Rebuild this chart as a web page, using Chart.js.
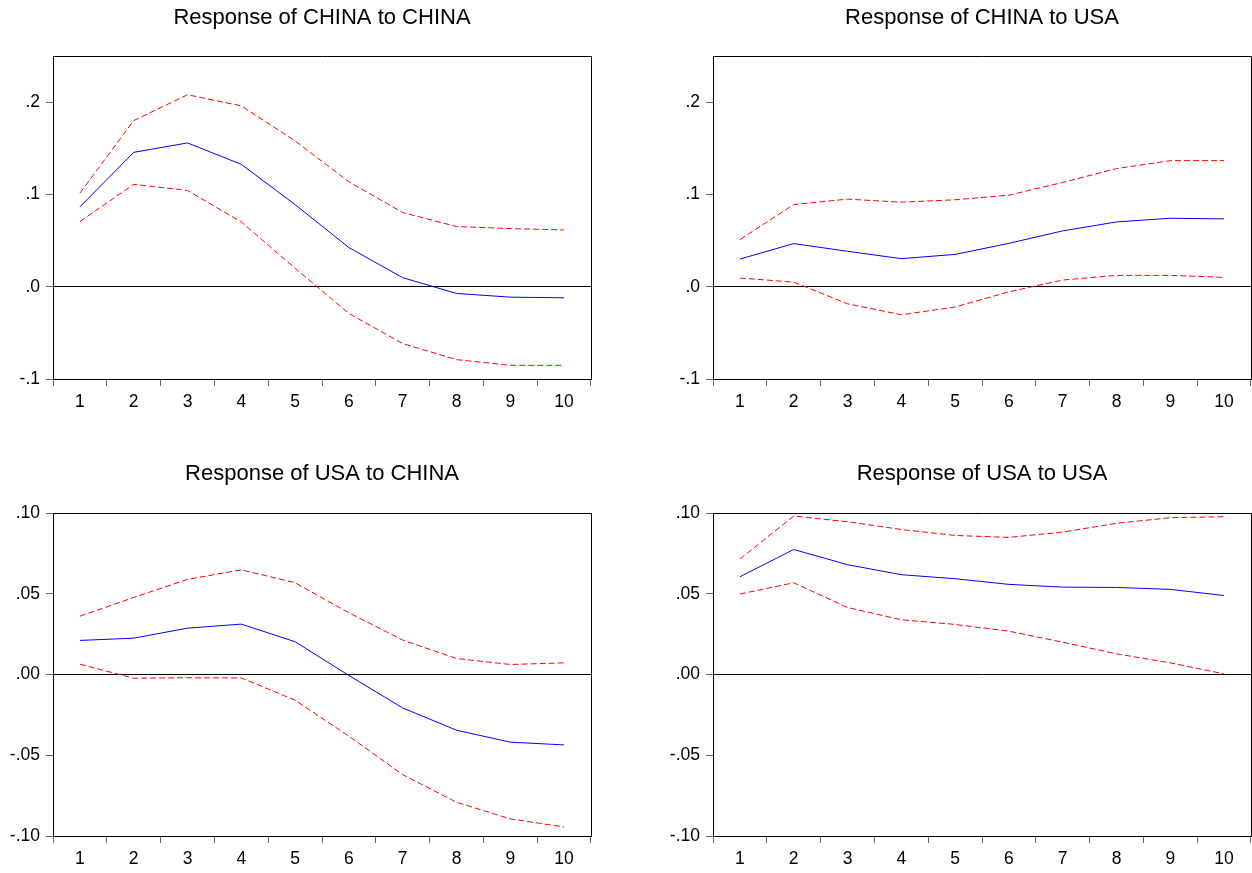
<!DOCTYPE html>
<html>
<head>
<meta charset="utf-8">
<script src="https://cdn.jsdelivr.net/npm/chart.js@4.4.1/dist/chart.umd.min.js"></script>
<style>
  html, body { margin: 0; padding: 0; background: #fff; overflow: hidden; }
  body { width: 1252px; height: 873px; position: relative; }
  canvas { position: absolute; }
</style>
</head>
<body>
<canvas id="c1" width="644" height="420" style="left:0;top:0"></canvas>
<canvas id="c2" width="644" height="420" style="left:660px;top:0"></canvas>
<canvas id="c3" width="644" height="417" style="left:0;top:456px"></canvas>
<canvas id="c4" width="644" height="417" style="left:660px;top:456px"></canvas>
<script>
const steps = ["1", "2", "3", "4", "5", "6", "7", "8", "9", "10"];

// Response of CHINA to CHINA
const chinaChina   = [0.0865, 0.1456, 0.1558, 0.1326, 0.089, 0.0424, 0.0098, -0.0073, -0.0113, -0.012];
const chinaChinaHi = [0.1014, 0.180, 0.208, 0.196, 0.158, 0.1137, 0.0804, 0.0652, 0.063, 0.0615];
const chinaChinaLo = [0.0706, 0.1109, 0.1043, 0.0702, 0.020, -0.029, -0.0616, -0.079, -0.0852, -0.0852];

// Response of CHINA to USA
const chinaUsa   = [0.030, 0.0467, 0.0384, 0.0304, 0.035, 0.047, 0.0605, 0.0702, 0.0742, 0.0735];
const chinaUsaHi = [0.051, 0.089, 0.0949, 0.0916, 0.0942, 0.0992, 0.113, 0.128, 0.1366, 0.1366];
const chinaUsaLo = [0.0094, 0.005, -0.0185, -0.0304, -0.022, -0.0055, 0.0072, 0.0123, 0.0123, 0.0101];

// Response of USA to CHINA
const usaChina   = [0.0211, 0.0225, 0.0287, 0.0312, 0.0203, -0.0006, -0.0207, -0.0345, -0.0419, -0.0436];
const usaChinaHi = [0.0361, 0.0477, 0.0589, 0.0648, 0.0568, 0.0382, 0.0213, 0.0099, 0.0062, 0.0072];
const usaChinaLo = [0.0064, -0.0023, -0.002, -0.0021, -0.0159, -0.0382, -0.062, -0.0791, -0.0894, -0.0944];

// Response of USA to USA
const usaUsa   = [0.0605, 0.0774, 0.068, 0.0618, 0.0593, 0.0558, 0.0541, 0.0539, 0.0527, 0.0489];
const usaUsaHi = [0.0715, 0.0981, 0.0946, 0.0898, 0.0861, 0.0849, 0.0882, 0.0936, 0.0971, 0.0977];
const usaUsaLo = [0.0498, 0.0568, 0.0415, 0.0339, 0.031, 0.0268, 0.020, 0.0128, 0.0072, 0.0004];

// y ticks
const topTicks = [-0.1, 0, 0.1, 0.2];
const topTickLabels = ["-.1", ".0", ".1", ".2"];
const bottomTicks = [-0.10, -0.05, 0, 0.05, 0.10];
const bottomTickLabels = ["-.10", "-.05", ".00", ".05", ".10"];

const FONT = "'Liberation Sans', Arial, sans-serif";

// closes the box on the top and right side
const boxPlugin = {
  id: "box",
  afterDraw(chart) {
    const a = chart.chartArea;
    const c = chart.ctx;
    c.save();
    c.strokeStyle = "#000";
    c.lineWidth = 1;
    c.beginPath();
    c.moveTo(Math.round(a.left), Math.round(a.top) + 0.5);
    c.lineTo(Math.round(a.right) + 0.5, Math.round(a.top) + 0.5);
    c.lineTo(Math.round(a.right) + 0.5, Math.round(a.bottom));
    c.stroke();
    c.restore();
  }
};

function makeChart(id, title, mid, hi, lo, yMin, yMax, ticks, tickLabels, xHeight, titlePadBottom) {
  const line = (data, color, dash) => ({
    data: data,
    borderColor: color,
    borderWidth: 1,
    borderDash: dash,
    pointRadius: 0,
    fill: false,
    tension: 0
  });
  new Chart(document.getElementById(id), {
    type: "line",
    data: {
      labels: steps,
      datasets: [
        line(hi, "#ff0000", [6, 3]),
        line(lo, "#ff0000", [6, 3]),
        line(mid, "#0000ff", [])
      ]
    },
    options: {
      responsive: false,
      animation: false,
      layout: { padding: 0 },
      plugins: {
        legend: { display: false },
        tooltip: { enabled: false },
        title: {
          display: true,
          text: title,
          color: "#000",
          font: { family: FONT, size: 22, weight: "normal" },
          padding: { top: 5, bottom: titlePadBottom }
        }
      },
      scales: {
        x: {
          offset: true,
          grid: {
            offset: true,
            drawOnChartArea: false,
            tickColor: "#666",
            tickLength: 7
          },
          border: { color: "#000", width: 1 },
          ticks: {
            color: "#000",
            padding: 6,
            maxRotation: 0,
            font: { family: FONT, size: 17.5 }
          },
          afterFit(scale) { scale.height = xHeight; }
        },
        y: {
          min: yMin,
          max: yMax,
          afterBuildTicks(scale) {
            scale.ticks = ticks.map(v => ({ value: v }));
          },
          grid: {
            color: ctx => (ctx.tick && ctx.tick.value === 0 ? "#000" : "rgba(0,0,0,0)"),
            tickColor: "#666",
            tickLength: 7
          },
          border: { color: "#000", width: 1 },
          ticks: {
            color: "#000",
            padding: 6,
            font: { family: FONT, size: 17.5 },
            callback: (v, i) => tickLabels[i]
          },
          afterFit(scale) { scale.width = 53; }
        },
        // empty right-hand margin so the title sits centred over the plot
        yRight: {
          position: "right",
          display: true,
          grid: { display: false },
          border: { display: false },
          ticks: { display: false },
          afterFit(scale) { scale.width = 53; }
        }
      }
    },
    plugins: [boxPlugin]
  });
}

makeChart("c1", "Response of CHINA to CHINA", chinaChina, chinaChinaHi, chinaChinaLo,
  -0.1, 0.25, topTicks, topTickLabels, 41, 24.6);
makeChart("c2", "Response of CHINA to USA", chinaUsa, chinaUsaHi, chinaUsaLo,
  -0.1, 0.25, topTicks, topTickLabels, 41, 24.6);
makeChart("c3", "Response of USA to CHINA", usaChina, usaChinaHi, usaChinaLo,
  -0.1, 0.1, bottomTicks, bottomTickLabels, 37, 25.6);
makeChart("c4", "Response of USA to USA", usaUsa, usaUsaHi, usaUsaLo,
  -0.1, 0.1, bottomTicks, bottomTickLabels, 37, 25.6);
</script>
</body>
</html>
